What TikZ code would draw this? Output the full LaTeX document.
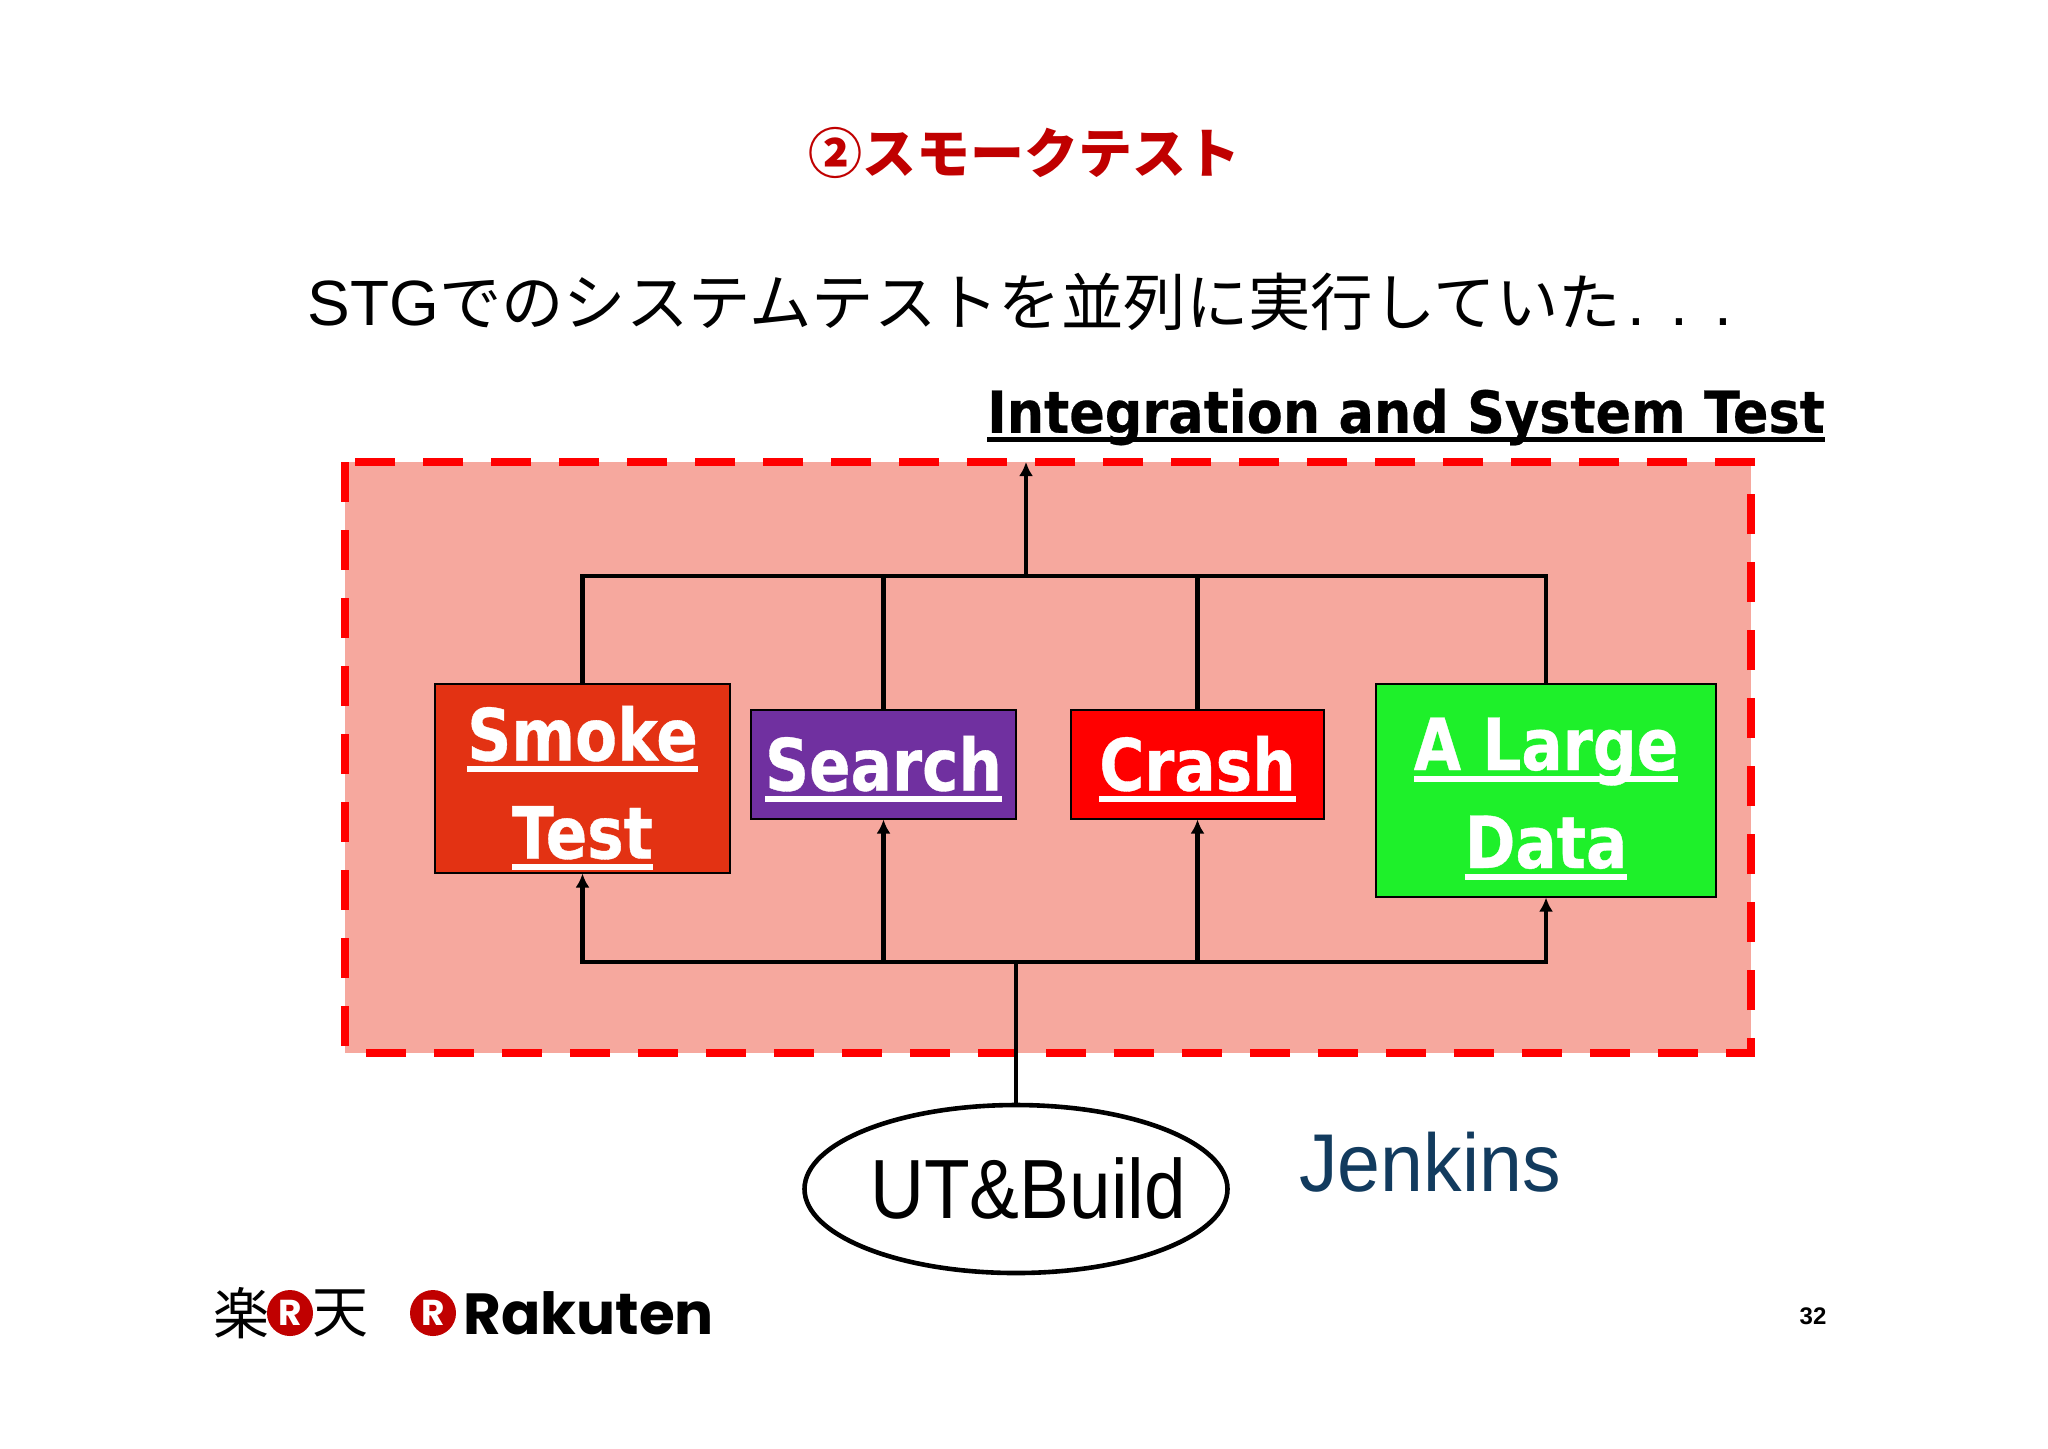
\documentclass[tikz,border=0pt]{standalone}
\usepackage{fontspec}
\usetikzlibrary{arrows.meta,shapes.geometric}
\setmainfont{Liberation Sans}
\newfontfamily\cjk{Noto Sans CJK JP}
\newfontfamily\boxfont[FakeStretch=0.85,FakeBold=0.5]{DejaVu Sans Bold}
\newfontfamily\headfont[FakeStretch=0.905,FakeBold=0.4]{DejaVu Sans Bold}
\newfontfamily\logofont{Poppins}
\newcommand{\ultext}[1]{\setbox0=\hbox{#1}\rlap{\rule[-0.16em]{\wd0}{0.08em}}\box0}
\newcommand{\droptext}[2]{\raisebox{-#1}[0pt][0pt]{\ultext{#2}}}
\definecolor{titlered}{HTML}{C00000}
\definecolor{panelfill}{HTML}{F6A89E}
\definecolor{smokefill}{HTML}{E33213}
\definecolor{searchfill}{HTML}{7030A0}
\definecolor{largefill}{HTML}{1EF02A}
\definecolor{jenkinsblue}{HTML}{123B5E}
\tikzset{
  testbox/.style={draw=black, line width=1pt, inner sep=0pt, text=white, align=center,
    font=\fontsize{36}{49}\selectfont\boxfont},
  bus/.style={draw=black, line width=2.3pt},
  busarrow/.style={bus, -{Latex[length=7pt,width=7pt]}},
  logodot/.style={circle, fill=titlered, inner sep=0pt, minimum size=23pt, text=white,
    font=\fontsize{18}{18}\selectfont\logofont\bfseries},
}
\begin{document}
\begin{tikzpicture}[x=0.5pt,y=-0.5pt]
  \useasboundingbox (0,0) rectangle (2048,1448);
  \fill[white] (0,0) rectangle (2048,1448);
  \node (title) [text=titlered, font=\fontsize{27}{27}\selectfont\cjk\bfseries] at (1024,153) {②スモークテスト};
  \node (lead) [font=\fontsize{32}{32}\selectfont] at (1020,302)
    {STG{\fontsize{31.2}{32}\selectfont\cjk でのシステムテストを並列に実行していた}\hspace{3pt}.\hspace{13pt}.\hspace{13pt}.};
  \node (head) [font=\fontsize{29}{32}\selectfont\headfont] at (1406,417) {\ultext{Integration and System Test}};

  \draw[red, line width=4pt, fill=panelfill, dash pattern=on 20pt off 14pt] (345,462) rectangle (1751,1053);
  \coordinate (paneltop) at (1026,462);

  \node (smoke) [testbox, fill=smokefill, minimum width=147.5pt, minimum height=94.5pt] at (582.5,778) {\droptext{15.75pt}{Smoke}\\\droptext{15.75pt}{Test}};
  \node (search) [testbox, fill=searchfill, minimum width=132.5pt, minimum height=54.5pt] at (883.5,764) {\droptext{13.25pt}{Search}};
  \node (crash) [testbox, fill=red, minimum width=126.5pt, minimum height=54.5pt] at (1197.5,764) {\droptext{13.25pt}{Crash}};
  \node (large) [testbox, fill=largefill, minimum width=170pt, minimum height=106.5pt] at (1546,790) {\droptext{14.5pt}{A Large}\\\droptext{14.5pt}{Data}};

  \node (build) [ellipse, draw=black, line width=2.3pt, fill=white, minimum width=211.5pt, minimum height=84pt, inner sep=0pt] at (1016,1189) {};
  \node (buildtext) [font=\fontsize{42}{42}\selectfont, xscale=0.89] at (1028,1188) {UT\&Build};
  \node (jenkins) [text=jenkinsblue, font=\fontsize{41}{41}\selectfont, xscale=0.94] at (1430,1162) {Jenkins};

  \coordinate (topbus) at (1026,576);
  \coordinate (lowbus) at (1016,962);
  \draw[bus] (smoke.north) |- (topbus);
  \draw[bus] (search.north) |- (topbus);
  \draw[bus] (crash.north) |- (topbus);
  \draw[bus] (large.north) |- (topbus);
  \draw[busarrow] (topbus) -- (paneltop);
  \draw[bus] (build.north) -- (lowbus);
  \draw[busarrow] (lowbus) -| (smoke.south);
  \draw[busarrow] (lowbus) -| (search.south);
  \draw[busarrow] (lowbus) -| (crash.south);
  \draw[busarrow] (lowbus) -| (large.south);

  \node (raku) [font=\fontsize{28}{28}\selectfont\cjk] at (241,1313) {楽};
  \node (dotone) [logodot] at (290,1313) {R};
  \node (ten) [font=\fontsize{28}{28}\selectfont\cjk] at (340,1313) {天};
  \node (dottwo) [logodot] at (433,1313) {R};
  \node (rakuten) [anchor=base west, inner sep=0pt, font=\fontsize{29}{30}\selectfont\logofont\bfseries] at (463,1334) {Rakuten};
  \node (page) [font=\fontsize{12}{12}\selectfont\bfseries] at (1813,1316) {32};
\end{tikzpicture}
\end{document}
